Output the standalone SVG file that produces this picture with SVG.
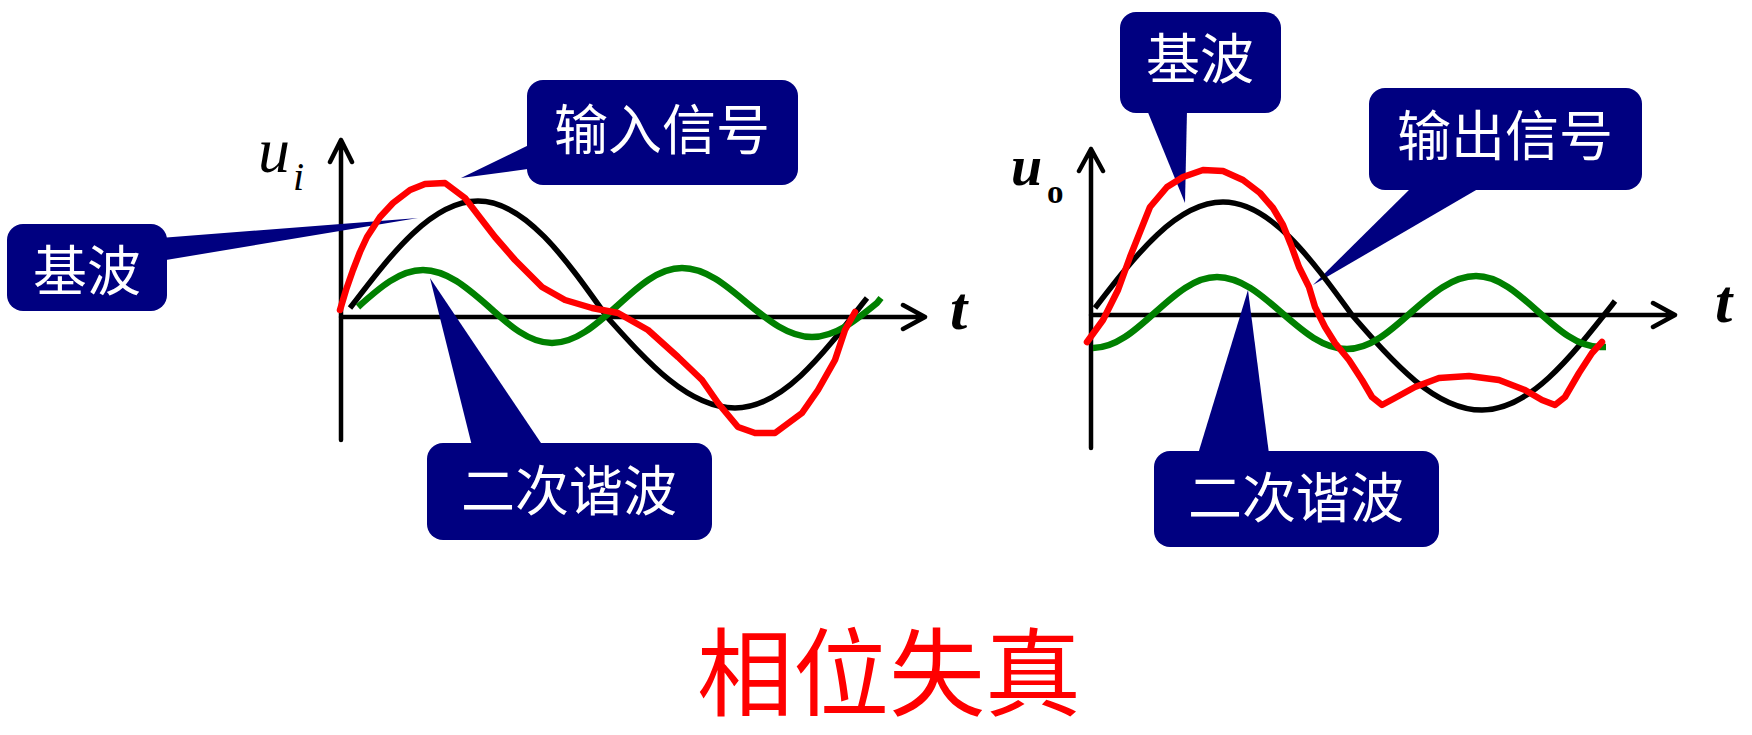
<svg xmlns="http://www.w3.org/2000/svg" width="1752" height="735" viewBox="0 0 1752 735">
<defs>
<style>
.axis{stroke:#000;stroke-width:4.5;fill:none;stroke-linecap:round;stroke-linejoin:round}
.fund{stroke:#000;stroke-width:5.5;fill:none}
.harm{stroke:#008000;stroke-width:6.5;fill:none}
.sig{stroke:#FF0000;stroke-width:6.5;fill:none;stroke-linejoin:round;stroke-linecap:round}
.box{fill:#000080}
.lbl{fill:#fff;font-family:"Noto Sans CJK SC","Noto Sans CJK TC",sans-serif;font-size:54px;text-anchor:middle}
.title{fill:#FF0000;font-family:"Noto Sans CJK SC","Noto Sans CJK TC",sans-serif;font-size:96px;text-anchor:middle}
.sym{font-family:"Liberation Serif","Times New Roman",serif;fill:#000}
</style>
</defs>
<rect width="1752" height="735" fill="#fff"/>

<g id="left-axes">
<path class="axis" d="M341,440 V140 M330,162 L341,140 L352,162"/>
<path class="axis" d="M341,317 H925 M903,305 L925,317 L903,329"/>
<text class="sym" x="258" y="172" font-size="64" font-style="italic">u</text>
<text class="sym" x="293" y="190" font-size="40" font-style="italic">i</text>
<text class="sym" x="950" y="329" font-size="62" font-style="italic" font-weight="bold">t</text>
</g>

<g id="right-axes">
<path class="axis" d="M1091,448 V149 M1079,171 L1091,149 L1103,171"/>
<path class="axis" d="M1091,315 H1675 M1653,303 L1675,315 L1653,327"/>
<text class="sym" x="1011" y="185" font-size="56" font-style="italic" font-weight="bold">u</text>
<text class="sym" x="1047" y="203" font-size="33" font-weight="bold">o</text>
<text class="sym" x="1715" y="322" font-size="62" font-style="italic" font-weight="bold">t</text>
</g>

<g id="callouts">
<g id="left-fund-callout">
<polygon class="box" points="160,238 418,218 160,261"/>
<rect class="box" x="7" y="224" width="160" height="87" rx="16"/>
<text class="lbl" x="87" y="291">基波</text>
</g>
<g id="input-callout">
<polygon class="box" points="535,142 461,178 535,168"/>
<rect class="box" x="527" y="80" width="271" height="105" rx="16"/>
<text class="lbl" x="662" y="150">输入信号</text>
</g>
<g id="left-harm-callout">
<polygon class="box" points="472,446 430,278 543,446"/>
<rect class="box" x="427" y="443" width="285" height="97" rx="16"/>
<text class="lbl" x="569" y="511">二次谐波</text>
</g>
<g id="right-fund-callout">
<polygon class="box" points="1147,110 1185,203 1187,110"/>
<rect class="box" x="1120" y="12" width="161" height="101" rx="16"/>
<text class="lbl" x="1200" y="79">基波</text>
</g>
<g id="output-callout">
<polygon class="box" points="1413,186 1313,285 1483,186"/>
<rect class="box" x="1369" y="88" width="273" height="102" rx="16"/>
<text class="lbl" x="1505" y="156">输出信号</text>
</g>
<g id="right-harm-callout">
<polygon class="box" points="1198,454 1248,290 1269,454"/>
<rect class="box" x="1154" y="451" width="285" height="96" rx="16"/>
<text class="lbl" x="1296" y="518">二次谐波</text>
</g>
</g>

<g id="left-curves">
<path class="fund" d="M350,308 C391.8,253.2 431.7,201 478,201 C524.7,201 564.9,257.5 607,317 C648.8,363.6 688.7,408 735,408 C781.3,408 821.2,356.8 863,303 L867,298"/>
<path class="harm" d="M358,307 C379.2,288 399.5,270 423,270 C446.5,270 466.8,287.5 488,306 C508.9,325 528.9,343 552,343 C575.5,343 595.8,325 617,306 C638.2,286.5 658.5,268 682,268 C705.5,268 725.8,285.1 747,303 C768.2,320.4 788.5,337 812,337 C835.5,337 855.8,320.4 877,303 L881,298"/>
<polyline class="sig" points="340,310 346,290 353,270 360,252 367,237 380,217 393,203 410,190 425,184 445,183 465,198 478,215 495,237 515,260 542,287 565,300 592,308 618,313 648,330 678,357 702,380 718,403 738,427 755,433 775,433 802,413 818,390 835,360 845,330 855,312"/>
</g>

<g id="right-curves">
<path class="fund" d="M1095,308 C1136.8,253.7 1176.7,202 1223,202 C1269.7,202 1309.9,257.1 1352,315 C1394.4,363.7 1435,410 1482,410 C1529,410 1569.6,358.8 1612,305 L1615,301"/>
<path class="harm" d="M1093,348 C1115.4,348 1134.8,330.7 1155,312.5 C1175.2,294.3 1194.6,277 1217,277 C1240.5,277 1260.8,294.5 1282,313 C1303.2,331.5 1323.5,349 1347,349 C1370.1,349 1390.1,331.2 1411,312.5 C1432.2,293.8 1452.5,276 1476,276 C1498.4,276 1517.8,293.3 1538,311.5 C1558.2,329.7 1577.6,347 1600,347 L1606,347"/>
<polyline class="sig" points="1087,342 1103,320 1118,290 1130,257 1142,227 1150,207 1167,187 1183,177 1203,170 1223,171 1243,180 1260,193 1273,208 1283,225 1291,245 1299,267 1309,287 1315,307 1325,327 1335,343 1349,360 1362,380 1372,397 1382,405 1395,398 1415,387 1439,378 1469,376 1499,380 1525,390 1542,400 1555,405 1565,397 1579,373 1592,353 1602,342"/>
</g>

<g id="title">
<text class="title" x="889" y="708">相位失真</text>
</g>
</svg>
